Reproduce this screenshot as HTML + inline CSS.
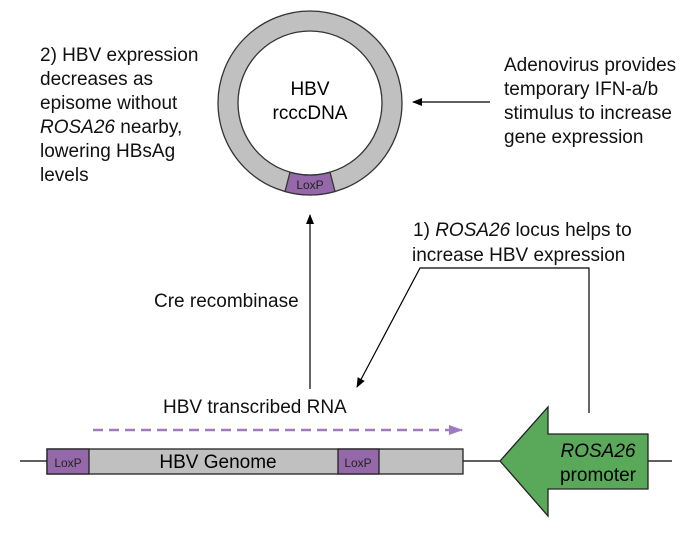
<!DOCTYPE html>
<html><head><style>
body{margin:0;background:#fff;}
svg{display:block;font-family:"Liberation Sans",sans-serif;}
</style></head><body>
<svg width="692" height="536" viewBox="0 0 692 536" xmlns="http://www.w3.org/2000/svg">
<defs>
<marker id="ah" markerWidth="10" markerHeight="8" refX="9" refY="4" orient="auto" markerUnits="userSpaceOnUse"><path d="M0,0 L10,4 L0,8 Z" fill="#000"/></marker>
<marker id="ap" markerWidth="14" markerHeight="10" refX="13" refY="5" orient="auto" markerUnits="userSpaceOnUse"><path d="M0,0 L14,5 L0,10 Z" fill="#a07ac0"/></marker>
</defs>
<circle cx="310" cy="103" r="82" fill="none" stroke="#c0c0c0" stroke-width="20"/>
<circle cx="310" cy="103" r="92" fill="none" stroke="#333" stroke-width="1.3"/>
<circle cx="310" cy="103" r="72" fill="none" stroke="#333" stroke-width="1.3"/>
<path d="M285,191.5 A92,92 0 0 0 335,191.5 L330,172.2 A72,72 0 0 1 290,172.2 Z" fill="#9569a9" stroke="#333" stroke-width="1.3"/>
<text x="310" y="189" font-size="12" text-anchor="middle" fill="#222">LoxP</text>
<text x="310" y="95" font-size="19" text-anchor="middle">HBV</text>
<text x="310" y="119" font-size="19" text-anchor="middle">rcccDNA</text>
<g font-size="19" fill="#111">
<text x="40" y="61">2) HBV expression</text>
<text x="40" y="85">decreases as</text>
<text x="40" y="109">episome without</text>
<text x="40" y="133"><tspan font-style="italic">ROSA26</tspan> nearby,</text>
<text x="40" y="157">lowering HBsAg</text>
<text x="40" y="181">levels</text>
<text x="504" y="71">Adenovirus provides</text>
<text x="504" y="95">temporary IFN-a/b</text>
<text x="504" y="119">stimulus to increase</text>
<text x="504" y="143">gene expression</text>
<text x="413" y="236">1) <tspan font-style="italic">ROSA26</tspan> locus helps to</text>
<text x="412" y="261">increase HBV expression</text>
<text x="154" y="307">Cre recombinase</text>
<text x="163" y="413">HBV transcribed RNA</text>
</g>
<line x1="490" y1="102" x2="413" y2="102" stroke="#000" stroke-width="1.2" marker-end="url(#ah)"/>
<line x1="310" y1="389" x2="310" y2="215" stroke="#000" stroke-width="1.2" marker-end="url(#ah)"/>
<polyline points="589,413 589,268 420,268 357,387" fill="none" stroke="#000" stroke-width="1.2" marker-end="url(#ah)"/>
<line x1="93" y1="430" x2="462" y2="430" stroke="#a07ac0" stroke-width="2.5" stroke-dasharray="10,6" marker-end="url(#ap)"/>
<line x1="20" y1="461" x2="672" y2="461" stroke="#000" stroke-width="1.3"/>
<rect x="47" y="449" width="416" height="25" fill="#c0c0c0" stroke="#222" stroke-width="1.3"/>
<rect x="47" y="449" width="42" height="25" fill="#9569a9" stroke="#222" stroke-width="1.3"/>
<rect x="338" y="449" width="41" height="25" fill="#9569a9" stroke="#222" stroke-width="1.3"/>
<text x="68" y="467" font-size="12" text-anchor="middle" fill="#222">LoxP</text>
<text x="358" y="467" font-size="12" text-anchor="middle" fill="#222">LoxP</text>
<text x="218" y="468" font-size="19" text-anchor="middle">HBV Genome</text>
<path d="M500,461 L548,407 L548,434 L648,434 L648,489 L548,489 L548,516 Z" fill="#5aa85a" stroke="#222" stroke-width="1.3"/>
<text x="598" y="457" font-size="19" text-anchor="middle" font-style="italic">ROSA26</text>
<text x="598" y="481" font-size="19" text-anchor="middle">promoter</text>
</svg>
</body></html>
